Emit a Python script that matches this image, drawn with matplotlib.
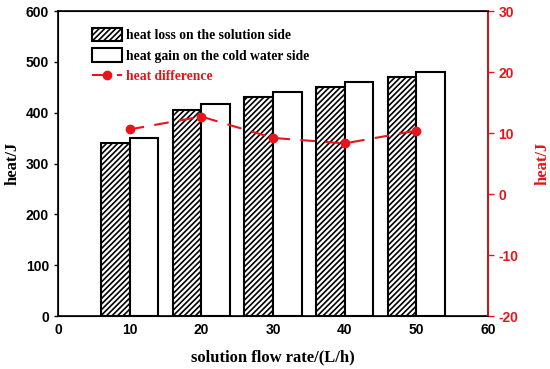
import matplotlib
matplotlib.use("Agg")
import matplotlib.pyplot as plt
import numpy as np

flow_rate = [10, 20, 30, 40, 50]
heat_loss = [340, 405, 430, 451, 470]
heat_gain = [350, 418, 440, 460, 480]
heat_diff = [10.6, 12.7, 9.2, 8.3, 10.4]

left_ticks = [0, 100, 200, 300, 400, 500, 600]
right_ticks = [-20, -10, 0, 10, 20, 30]
x_ticks = [0, 10, 20, 30, 40, 50, 60]

plt.rcParams['hatch.linewidth'] = 1.2
plt.rcParams['axes.unicode_minus'] = False
serif = ['Liberation Serif', 'DejaVu Serif']
sans = ['Liberation Sans', 'DejaVu Sans']
red = '#e8141a'

fig = plt.figure(figsize=(5.5, 3.69), dpi=100)
ax = fig.add_axes([0.1055, 0.1436, 0.7818, 0.8264])

bw = 4
x = np.array(flow_rate)
b1 = ax.bar(x - bw / 2, heat_loss, width=bw, color='white', edgecolor='black',
            hatch='//////', linewidth=1.5)
b2 = ax.bar(x + bw / 2, heat_gain, width=bw, color='white', edgecolor='black',
            linewidth=1.5)

ax.set_xlim(0, 60)
ax.set_ylim(0, 600)
ax.set_xticks(x_ticks)
ax.set_yticks(left_ticks)
for lab in ax.get_xticklabels() + ax.get_yticklabels():
    lab.set_family(sans)
    lab.set_fontweight('bold')
    lab.set_fontsize(10)
ax.tick_params(axis='y', direction='out', length=3, width=1)
ax.tick_params(axis='x', length=0, pad=5)
ax.set_xlabel('solution flow rate/(L/h)', family=serif, fontweight='bold', fontsize=12, labelpad=9)
ax.set_ylabel('heat/J', family=serif, fontweight='bold', fontsize=12)
ax.yaxis.set_label_coords(-0.088, 0.5)
for s in ax.spines.values():
    s.set_linewidth(1.2)

ax2 = ax.twinx()
l1, = ax2.plot(flow_rate, heat_diff, color=red, linestyle=(0, (7, 5)), linewidth=1.5,
               marker='o', markersize=6)
ax2.set_ylim(-20, 30)
ax2.set_yticks(right_ticks)
for lab in ax2.get_yticklabels():
    lab.set_family(sans)
    lab.set_fontweight('bold')
    lab.set_fontsize(10)
    lab.set_color(red)
ax2.tick_params(axis='y', direction='out', length=4, width=1, colors=red)
ax2.spines['right'].set_color(red)
ax2.spines['right'].set_linewidth(1.2)
ax2.set_ylabel('heat/J', family=serif, fontweight='bold', fontsize=12, color=red)
ax2.yaxis.set_label_coords(1.108, 0.5)

leg = ax.legend([b1, b2, l1], ['heat loss on the solution side', 'heat gain on the cold water side',
                               'heat difference'],
                loc='upper left', bbox_to_anchor=(0.05, 0.985), frameon=False,
                prop={'family': serif, 'weight': 'bold', 'size': 9.8},
                handlelength=2.2, handleheight=1.15, handletextpad=0.35, labelspacing=0.45)
leg.get_texts()[2].set_color(red)

fig.savefig('out.png', dpi=100)
